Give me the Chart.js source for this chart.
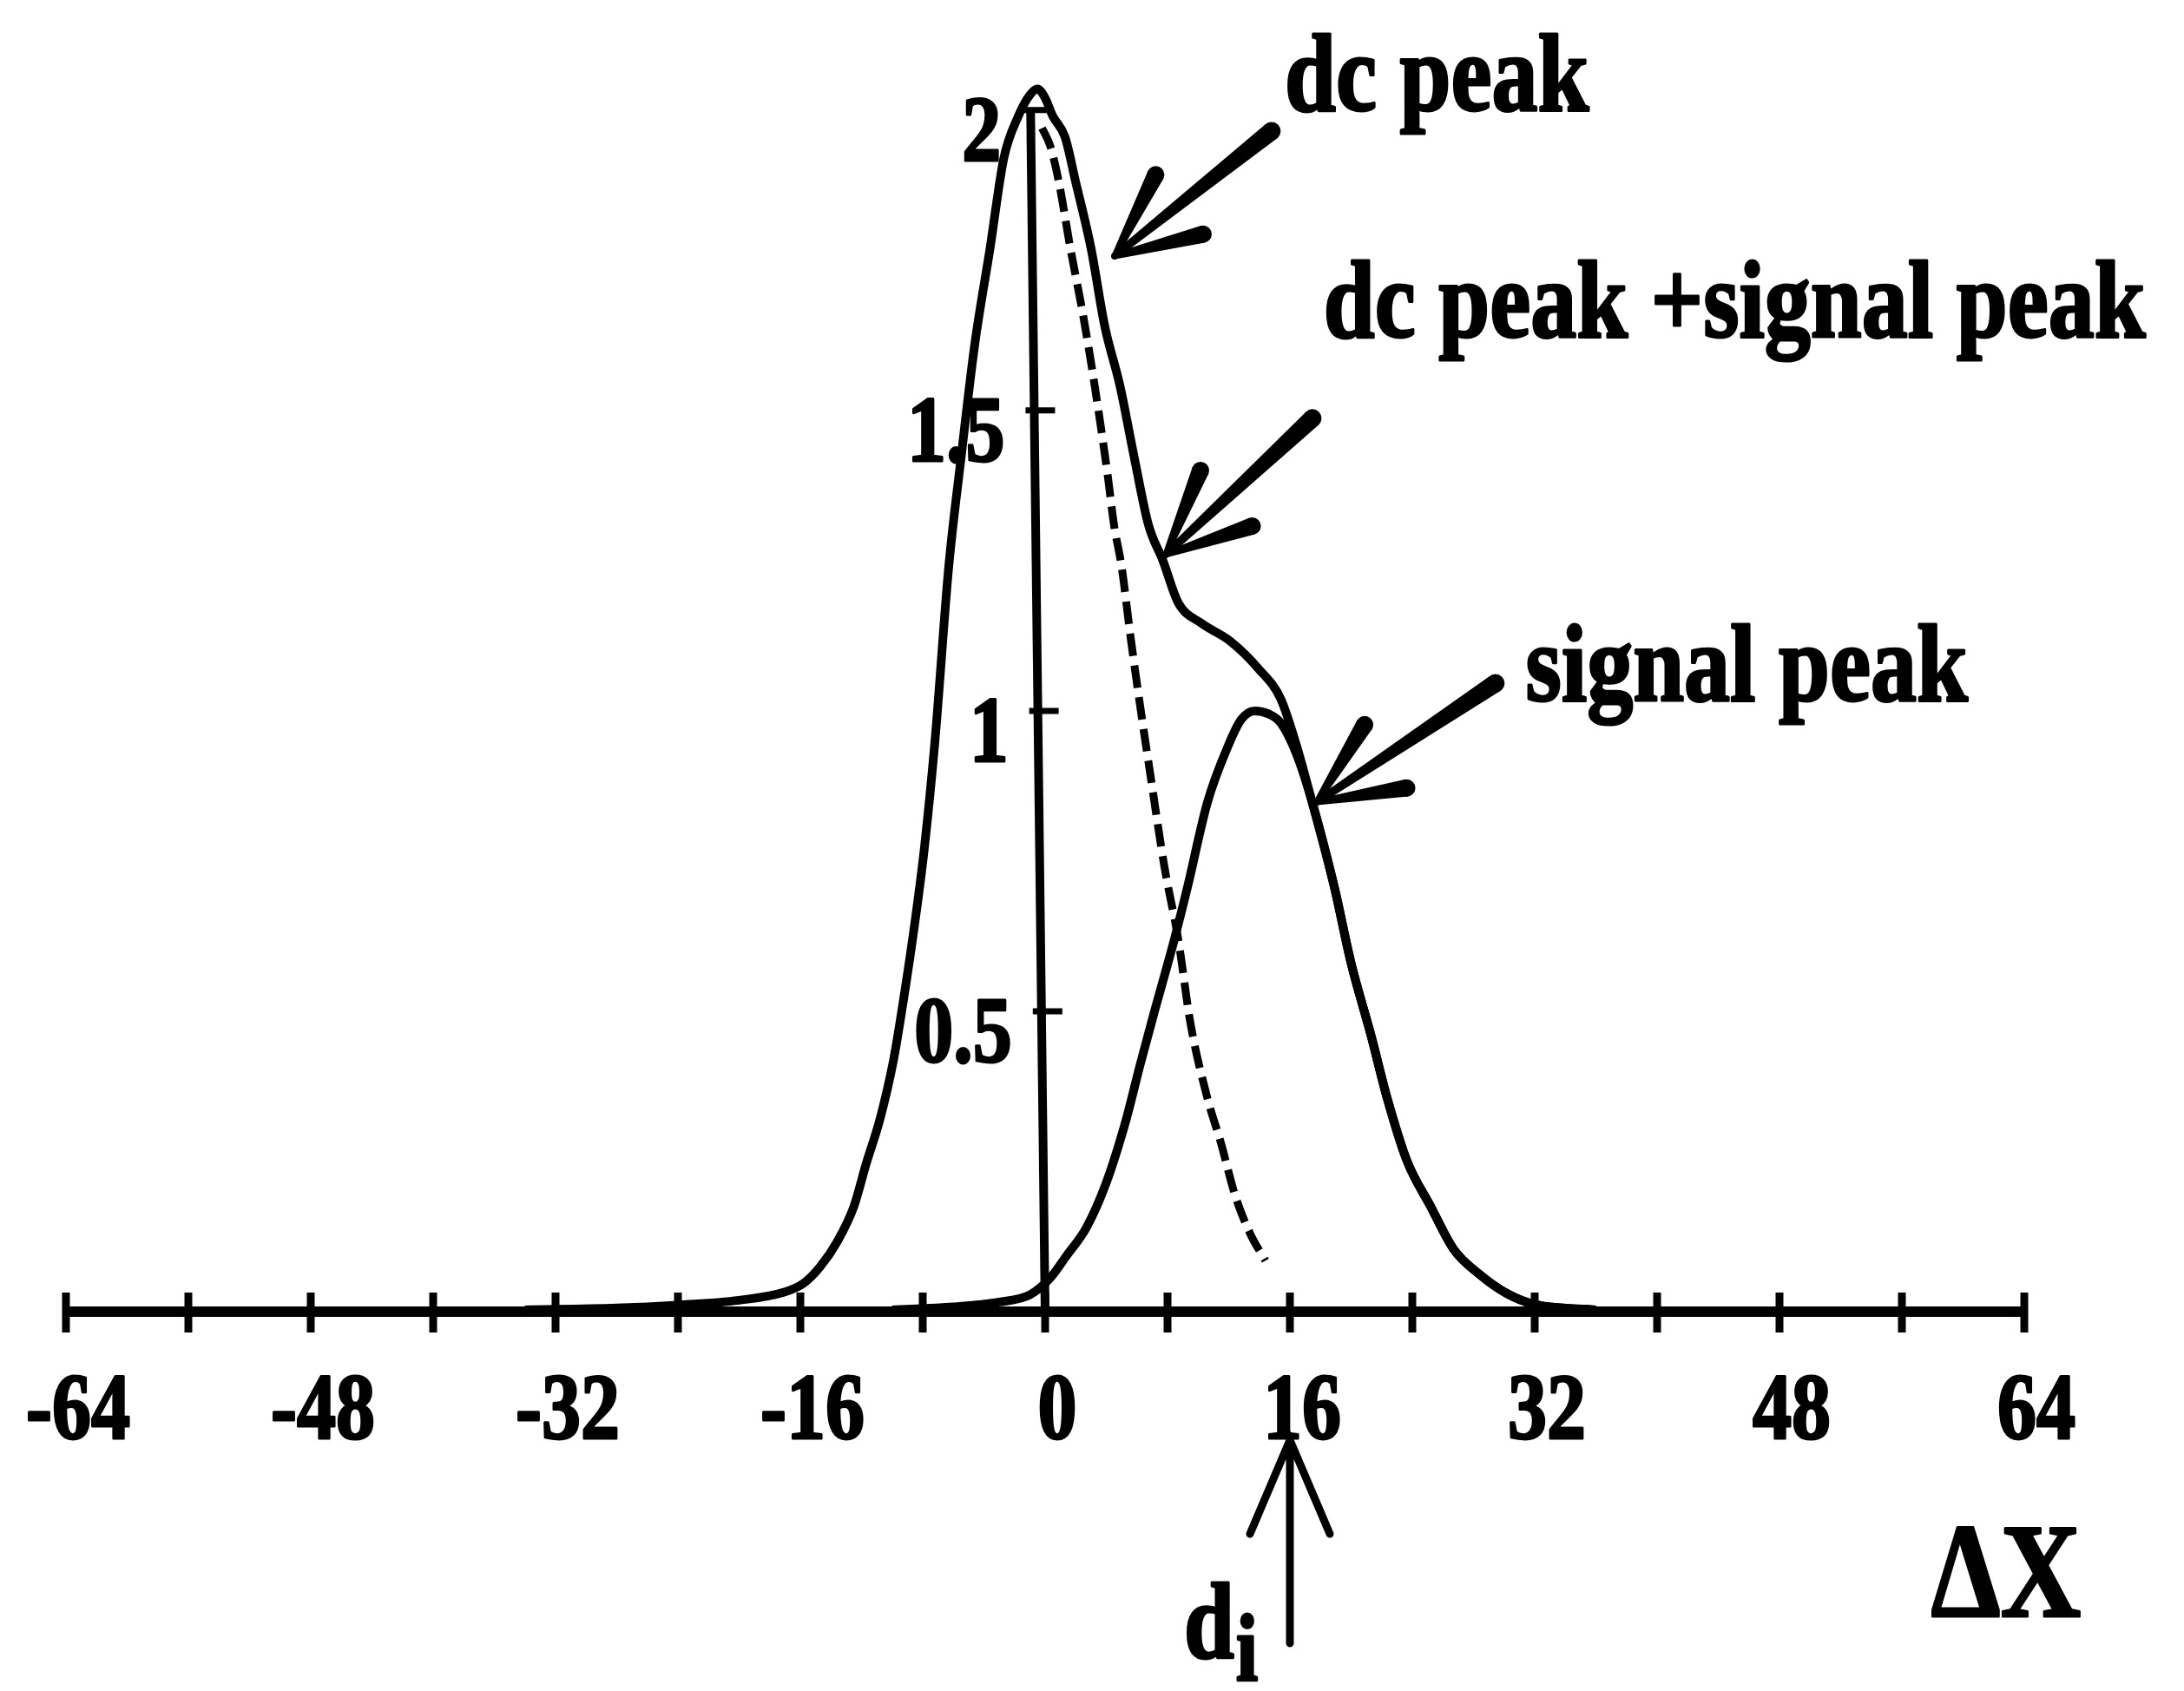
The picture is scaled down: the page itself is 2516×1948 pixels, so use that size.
<!DOCTYPE html>
<html>
<head>
<meta charset="utf-8">
<title>dc peak and signal peak</title>
<script src="https://cdn.jsdelivr.net/npm/chart.js@4.4.1/dist/chart.umd.min.js"></script>
<style>
  html, body { margin: 0; padding: 0; background: #ffffff; }
  #wrap { width: 2516px; height: 1948px; position: relative; }
</style>
</head>
<body>
<div id="wrap"><canvas id="chart-peaks"></canvas></div>
<script>
// dc peak + signal peak (solid)
const sumX = [-34, -28, -24, -20, -17.1, -15.8, -14.7, -13.6, -12.5, -11.7, -10.8, -9.9, -9.25, -8.5, -7.9, -7.2,
  -6.3, -5.5, -4.6, -3.6, -2.7, -1.75, -1.0, -0.5, 0.0, 0.5, 1.3, 2.0, 3.0, 3.9, 4.9, 5.8, 6.75, 7.7, 8.7,
  10.2, 12.1, 13.95, 15.4, 16.4, 17.4, 18.9, 20.0, 21.3, 22.35, 23.65, 25.2, 26.7, 28.4, 30.2, 32, 36];
const sumY = [0.003, 0.006, 0.011, 0.019, 0.032, 0.047, 0.075, 0.116, 0.175, 0.246, 0.32, 0.42, 0.52, 0.65, 0.77, 0.95,
  1.24, 1.42, 1.61, 1.77, 1.92, 1.99, 2.025, 2.035, 2.02, 1.99, 1.955, 1.88, 1.77, 1.64, 1.54, 1.425, 1.31, 1.25, 1.18,
  1.146, 1.116, 1.07, 1.02, 0.945, 0.853, 0.707, 0.58, 0.46, 0.356, 0.251, 0.175, 0.104, 0.062, 0.03, 0.012, 0.003];

// dc peak alone, right half (dashed)
const dcX = [-0.2, 0.34, 0.9, 1.65, 2.4, 3.0, 3.6, 4.1, 4.5, 5.0, 5.6, 6.2, 6.9, 7.8, 8.7, 9.5, 10.6, 11.5, 12.4, 13.4, 14.4];
const dcY = [1.97, 1.94, 1.88, 1.77, 1.67, 1.58, 1.48, 1.39, 1.31, 1.24, 1.12, 1.01, 0.89, 0.74, 0.62, 0.48, 0.356, 0.28, 0.195, 0.13, 0.085];

// signal peak (solid)
const signalX = [-10, -6, -3, -1, 0.3, 1.4, 2.7, 4.0, 5.3, 6.2, 7.15, 8.45, 9.3, 10.6, 11.9, 12.8, 13.7, 14.6, 15.4,
  16.4, 17.4, 18.9, 20.0, 21.3, 22.35, 23.65, 25.2, 26.7, 28.4, 30.2, 32, 36];
const signalY = [0.003, 0.008, 0.016, 0.028, 0.055, 0.093, 0.14, 0.215, 0.32, 0.41, 0.5, 0.62, 0.706, 0.847, 0.938, 0.985, 1.0, 0.995, 0.98,
  0.93, 0.853, 0.707, 0.58, 0.46, 0.356, 0.251, 0.175, 0.104, 0.062, 0.03, 0.012, 0.003];

const xTickValues = [-64, -56, -48, -40, -32, -24, -16, -8, 0, 8, 16, 24, 32, 40, 48, 56, 64];
const xTickLabels = ["-64", "", "-48", "", "-32", "", "-16", "", "0", "", "16", "", "32", "", "48", "", "64"];
const yTickValues = [0.5, 1, 1.5, 2];
const yTickLabels = ["0.5", "1", "1.5", "2"];

const noteTexts = ["dc peak", "dc peak +signal peak", "signal peak"];
const noteX = [15.66, 18.2, 31.4];
const noteY = [2.0, 1.623, 1.017];

// arrows: tail -> tip, in data units
const arrows = [
  { from: [14.8, 1.965], to: [4.54, 1.757] },
  { from: [17.47, 1.487], to: [7.88, 1.26] },
  { from: [29.44, 1.046], to: [17.75, 0.848] }
];

const ink = "#000000";
const serif = '"Liberation Serif", "Times New Roman", serif';
const yAxisTopX = -0.95; // the drawn axis leans to the dc apex
const yAxisTop = 2.0;

function points(xs, ys) {
  return xs.map(function (v, i) {
    return { x: v, y: ys[i] };
  });
}

function stretchText(ctx, str, x, y, size, align) {
  ctx.save();
  ctx.font = "bold " + size + "px " + serif;
  ctx.textAlign = align;
  ctx.textBaseline = "alphabetic";
  ctx.translate(x, y);
  ctx.scale(1, 1.2);
  ctx.lineWidth = 2.5;
  ctx.lineJoin = "round";
  ctx.fillText(str, 0, 0);
  ctx.strokeText(str, 0, 0);
  ctx.restore();
}

function taper(ctx, x1, y1, w1, x2, y2, w2) {
  const dx = x2 - x1, dy = y2 - y1, len = Math.hypot(dx, dy);
  const nx = -dy / len, ny = dx / len;
  ctx.beginPath();
  ctx.moveTo(x1 + nx * w1 / 2, y1 + ny * w1 / 2);
  ctx.lineTo(x2 + nx * w2 / 2, y2 + ny * w2 / 2);
  ctx.lineTo(x2 - nx * w2 / 2, y2 - ny * w2 / 2);
  ctx.lineTo(x1 - nx * w1 / 2, y1 - ny * w1 / 2);
  ctx.closePath();
  ctx.fill();
  ctx.beginPath();
  ctx.arc(x1, y1, w1 / 2, 0, Math.PI * 2);
  ctx.arc(x2, y2, w2 / 2, 0, Math.PI * 2);
  ctx.fill();
}

function fatArrow(ctx, tx, ty, hx, hy) {
  taper(ctx, tx, ty, 21, hx, hy, 8);
  const back = Math.atan2(ty - hy, tx - hx);
  [-0.43, 0.43].forEach(function (da) {
    const a = back + da;
    taper(ctx, hx, hy, 7, hx + Math.cos(a) * 105, hy + Math.sin(a) * 105, 20);
  });
}

const peakDecor = {
  id: "peakDecor",
  afterDatasetsDraw(chart) {
    const ctx = chart.ctx;
    const x = chart.scales.x, y = chart.scales.y;
    const px = function (v) { return x.getPixelForValue(v); };
    const py = function (v) { return y.getPixelForValue(v); };
    const y0 = py(0);

    ctx.save();
    ctx.fillStyle = ink;
    ctx.strokeStyle = ink;
    ctx.lineCap = "butt";

    // x axis with crossing ticks
    ctx.lineWidth = 12;
    ctx.beginPath();
    ctx.moveTo(px(-64) - 4, y0);
    ctx.lineTo(px(64) + 4, y0);
    ctx.stroke();
    ctx.lineWidth = 9;
    xTickValues.forEach(function (v, i) {
      ctx.beginPath();
      ctx.moveTo(px(v), y0 - 22);
      ctx.lineTo(px(v), y0 + 24);
      ctx.stroke();
      if (xTickLabels[i]) stretchText(ctx, xTickLabels[i], px(v) + 14, y0 + 146, 90, "center");
    });

    // y axis
    const axisAt = function (v) { return px(yAxisTopX * v / yAxisTop); };
    ctx.lineWidth = 10;
    ctx.beginPath();
    ctx.moveTo(px(0), y0);
    ctx.lineTo(axisAt(yAxisTop), py(yAxisTop));
    ctx.stroke();
    ctx.lineWidth = 7;
    yTickValues.forEach(function (v, i) {
      const ax = axisAt(v);
      ctx.beginPath();
      ctx.moveTo(ax - 10, py(v));
      ctx.lineTo(ax + 24, py(v));
      ctx.stroke();
      stretchText(ctx, yTickLabels[i], ax - 34, py(v) + 58, 90, "right");
    });

    // callouts
    noteTexts.forEach(function (t, i) {
      stretchText(ctx, t, px(noteX[i]), py(noteY[i]), 106, "left");
    });
    arrows.forEach(function (a) {
      fatArrow(ctx, px(a.from[0]), py(a.from[1]), px(a.to[0]), py(a.to[1]));
    });

    // d_i marker under 16
    const dx = px(16), tipY = py(-0.214), endY = py(-0.552);
    ctx.lineWidth = 9;
    ctx.lineCap = "round";
    ctx.lineJoin = "miter";
    ctx.beginPath();
    ctx.moveTo(dx, endY);
    ctx.lineTo(dx, tipY);
    ctx.moveTo(dx - 46, tipY + 108);
    ctx.lineTo(dx, tipY);
    ctx.lineTo(dx + 46, tipY + 108);
    ctx.stroke();
    stretchText(ctx, "d", px(9.08), py(-0.577), 104, "left");
    ctx.font = "bold 104px " + serif;
    const dw = ctx.measureText("d").width;
    stretchText(ctx, "i", px(9.08) + dw + 2, py(-0.577) + 26, 92, "left");

    // axis name
    stretchText(ctx, "\u0394X", px(57.9), py(-0.507), 128, "left");
    ctx.restore();
  }
};

const ctx = document.getElementById("chart-peaks").getContext("2d");

new Chart(ctx, {
  type: "scatter",
  data: {
    datasets: [
      {
        label: "dc peak +signal peak",
        data: points(sumX, sumY),
        showLine: true,
        borderColor: ink,
        borderWidth: 10,
        pointRadius: 0,
        cubicInterpolationMode: "monotone",
      },
      {
        label: "dc peak",
        data: points(dcX, dcY),
        showLine: true,
        borderColor: ink,
        borderWidth: 9,
        borderDash: [26, 11],
        pointRadius: 0,
        cubicInterpolationMode: "monotone",
      },
      {
        label: "signal peak",
        data: points(signalX, signalY),
        showLine: true,
        borderColor: ink,
        borderWidth: 10,
        pointRadius: 0,
        cubicInterpolationMode: "monotone",
      },
    ],
  },
  options: {
    responsive: true,
    maintainAspectRatio: false,
    animation: false,
    devicePixelRatio: 1,
    layout: {
      padding: { left: 76, right: 184, top: 23, bottom: 437 },
    },
    plugins: {
      legend: { display: false },
      tooltip: { enabled: false },
    },
    scales: {
      x: { type: "linear", min: -64, max: 64, display: false },
      y: { type: "linear", min: 0, max: 2.15, display: false },
    },
  },
  plugins: [peakDecor],
});
</script>
</body>
</html>
